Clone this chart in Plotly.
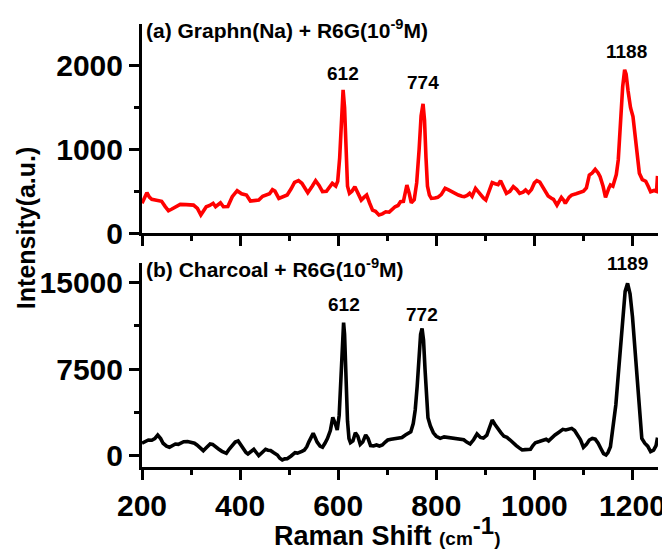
import plotly.graph_objects as go

# ---------------- data ----------------
shift_a = [200, 205, 210, 215, 220, 227, 233, 240, 247, 254, 260, 264, 271, 278, 290, 300, 305, 313, 320, 326,
           331, 338, 345, 350, 355, 360, 366, 375, 384, 390, 394, 403, 413, 421, 430, 438, 446, 454, 460, 466,
           471, 479, 488, 496, 504, 511, 519, 526, 532, 538, 547, 554, 561, 568, 576, 583, 588, 595, 599, 603,
           607, 610, 613, 616, 619, 623, 628, 634, 641, 647, 653, 658, 664, 670, 676, 683, 690, 697, 704, 710,
           716, 722, 727, 733, 740, 745, 749, 755, 760, 765, 769, 773, 776, 779, 782, 786, 790, 797, 803, 810,
           818, 824, 831, 838, 845, 852, 857, 863, 868, 873, 880, 885, 890, 896, 901, 908, 914, 920, 926, 931,
           937, 943, 950, 957, 964, 970, 977, 982, 988, 994, 1000, 1005, 1011, 1020, 1028, 1034, 1039, 1046, 1053, 1055,
           1060, 1063, 1071, 1076, 1085, 1094, 1100, 1106, 1112, 1118, 1124, 1130, 1134, 1140, 1145, 1152, 1155, 1160, 1167, 1171,
           1175, 1180, 1184, 1187, 1191, 1196, 1201, 1206, 1210, 1214, 1220, 1227, 1232, 1237, 1244, 1249, 1251]
intensity_a = [356, 420, 483, 430, 404, 395, 383, 380, 320, 267, 285, 296, 320, 343, 340, 338, 335, 296, 216, 270,
               315, 330, 356, 315, 340, 363, 315, 318, 435, 490, 507, 470, 455, 383, 390, 395, 440, 463, 470, 520,
               503, 415, 440, 455, 530, 607, 627, 595, 540, 483, 560, 627, 570, 495, 500, 560, 595, 563, 620, 900,
               1450, 1712, 1500, 900, 560, 475, 500, 555, 480, 395, 430, 455, 360, 275, 260, 216, 230, 255, 250, 290,
               315, 330, 375, 380, 575, 470, 363, 400, 600, 1000, 1400, 1545, 1350, 900, 560, 455, 415, 420, 427, 460,
               535, 520, 495, 470, 455, 440, 435, 450, 475, 440, 535, 500, 455, 420, 395, 500, 603, 590, 580, 627,
               560, 475, 500, 555, 520, 475, 490, 515, 480, 520, 600, 627, 610, 520, 443, 420, 403, 335, 400, 427,
               390, 355, 430, 455, 470, 495, 500, 540, 695, 720, 763, 720, 675, 560, 427, 540, 575, 560, 700, 875,
               1273, 1750, 1952, 1900, 1700, 1500, 1393, 1114, 850, 715, 640, 620, 560, 495, 510, 500, 683]

shift_b = [200, 203, 208, 213, 220, 226, 232, 238, 243, 250, 256, 262, 268, 274, 280, 285, 293, 301, 307, 312,
           318, 325, 332, 339, 344, 349, 356, 363, 372, 378, 383, 390, 396, 402, 407, 412, 416, 422, 428, 433,
           438, 445, 452, 457, 462, 468, 476, 481, 486, 491, 496, 504, 512, 517, 521, 526, 531, 536, 540, 545,
           549, 553, 557, 563, 568, 573, 578, 584, 589, 594, 598, 602, 606, 609, 611, 613, 616, 619, 622, 625,
           630, 635, 640, 645, 650, 656, 661, 666, 672, 678, 684, 690, 696, 701, 708, 715, 722, 730, 737, 743,
           748, 753, 757, 761, 765, 768, 771, 774, 777, 780, 783, 788, 794, 800, 808, 816, 825, 832, 840, 849,
           856, 862, 869, 876, 883, 890, 896, 903, 909, 914, 920, 926, 932, 938, 944, 950, 957, 963, 969, 975,
           981, 987, 992, 997, 1002, 1010, 1018, 1024, 1029, 1035, 1042, 1050, 1058, 1064, 1070, 1076, 1082, 1088, 1094, 1100,
           1106, 1112, 1118, 1124, 1130, 1136, 1141, 1146, 1150, 1155, 1158, 1162, 1166, 1171, 1175, 1180, 1185, 1190, 1195, 1200,
           1205, 1210, 1214, 1219, 1225, 1231, 1237, 1243, 1248, 1251]
intensity_b = [1100, 1147, 1300, 1379, 1360, 1500, 1810, 1500, 1100, 850, 750, 900, 1034, 1000, 1150, 1233, 1240, 1200, 1100, 948,
               700, 457, 750, 1034, 1000, 800, 600, 400, 233, 600, 900, 1200, 1293, 900, 600, 300, 172, 400, 577, 300,
               26, 300, 577, 500, 480, 300, 86, -200, -345, -250, -230, 0, 284, 250, 300, 400, 517, 800, 1200, 1700,
               1954, 1600, 1200, 850, 750, 1100, 1500, 2200, 3336, 2800, 2241, 3500, 7000, 10500, 11500, 10500, 6500, 3000, 1500, 1147,
               1300, 2009, 1700, 1000, 1200, 1810, 1500, 900, 862, 950, 862, 950, 1200, 1379, 1450, 1500, 1522, 1600, 1810, 1950,
               2095, 2800, 3966, 6000, 8600, 10500, 11000, 10000, 7500, 4500, 3300, 2586, 2000, 1700, 1522, 1650, 1600, 1610, 1550, 1437,
               1400, 1200, 1034, 1400, 1896, 1600, 1550, 1800, 2500, 3103, 2700, 2299, 2000, 1700, 1610, 1400, 1092, 900, 700, 517,
               550, 600, 580, 900, 1147, 1250, 1379, 1450, 1300, 1550, 1810, 2050, 2299, 2250, 2350, 2385, 2200, 1850, 1400, 750,
               1000, 1379, 1522, 1450, 1100, 600, 200, 86, 300, 800, 1810, 3103, 4400, 7000, 9000, 12000, 14200, 14890, 14000, 12000,
               9000, 6000, 3534, 1522, 1100, 850, 370, 500, 900, 1580]

peaks_a_pos = [610, 773, 1187]
peaks_a_int = [1712, 1545, 1952]
peaks_a_label = ["612", "774", "1188"]
peaks_b_pos = [611, 771, 1190]
peaks_b_int = [11500, 11000, 14890]
peaks_b_label = ["612", "772", "1189"]

x_major = [200, 400, 600, 800, 1000, 1200]
x_major_text = ["200", "400", "600", "800", "1000", "1200"]
x_minor = [300, 500, 700, 900, 1100]
ya_major = [0, 1000, 2000]
ya_major_text = ["0", "1000", "2000"]
ya_minor = [500, 1500]
yb_major = [0, 7500, 15000]
yb_major_text = ["0", "7500", "15000"]
yb_minor = [3750, 11250]

FONT = "Liberation Sans, Arial, Helvetica, sans-serif"

fig = go.Figure()
fig.add_trace(go.Scatter(x=shift_a, y=intensity_a, mode="lines", xaxis="x2", yaxis="y2",
                         line=dict(color="#ff0000", width=3.6), showlegend=False))
fig.add_trace(go.Scatter(x=shift_b, y=intensity_b, mode="lines", xaxis="x", yaxis="y",
                         line=dict(color="#000000", width=3.6), showlegend=False))

common_ax = dict(showline=True, linecolor="black", linewidth=3, ticks="outside", ticklen=10, tickwidth=2.5,
                 tickcolor="black", showgrid=False, zeroline=False, mirror=False, automargin=False,
                 tickfont=dict(family=FONT, size=30, color="black", weight="bold"))
minor_style = dict(tickmode="array", ticklen=5, tickwidth=2.5, tickcolor="black", ticks="outside")

# the page body has an 8px default margin, so the figure is 8px smaller on each axis
fig.update_layout(
    width=662, height=543,
    margin=dict(l=134, r=12, t=16, b=84),
    paper_bgcolor="white", plot_bgcolor="white",
    xaxis=dict(**common_ax, range=[200, 1252], domain=[0, 1], anchor="y",
               tickmode="array", tickvals=x_major, ticktext=x_major_text,
               minor=dict(**minor_style, tickvals=x_minor)),
    yaxis=dict(**common_ax, range=[-950, 16650], domain=[0, 0.4605], anchor="x",
               tickmode="array", tickvals=yb_major, ticktext=yb_major_text,
               minor=dict(**minor_style, tickvals=yb_minor)),
    xaxis2=dict(**common_ax, range=[200, 1252], domain=[0, 1], anchor="y2",
                tickmode="array", tickvals=x_major, showticklabels=False,
                minor=dict(**minor_style, tickvals=x_minor)),
    yaxis2=dict(**common_ax, range=[0, 2500], domain=[0.528, 1], anchor="x2",
                tickmode="array", tickvals=ya_major, ticktext=ya_major_text,
                minor=dict(**minor_style, tickvals=ya_minor)),
)

ann = []
ann.append(dict(text="Intensity(a.u.)", xref="paper", yref="paper", x=-0.226, y=0.54, textangle=-90,
                showarrow=False, font=dict(family=FONT, size=25, color="black", weight="bold"),
                xanchor="center", yanchor="middle"))
ann.append(dict(text="Raman Shift <span style='font-size:19px'>(cm</span><sup><span style='font-size:24px'>-1</span></sup><span style='font-size:19px'>)</span>",
                xref="paper", yref="paper", x=0.475, y=-0.146, xanchor="center", yanchor="middle",
                showarrow=False, font=dict(family=FONT, size=27, color="black", weight="bold")))
ann.append(dict(text="(a) Graphn(Na) + R6G(10<sup>-9</sup>M)", xref="x2 domain", yref="y2 domain", x=0.0, y=1.0,
                xanchor="left", yanchor="top", showarrow=False, yshift=10, xshift=2,
                font=dict(family=FONT, size=21, color="black", weight="bold")))
ann.append(dict(text="(b) Charcoal + R6G(10<sup>-9</sup>M)", xref="x domain", yref="y domain", x=0.0, y=1.0,
                xanchor="left", yanchor="top", showarrow=False, yshift=10, xshift=2,
                font=dict(family=FONT, size=21, color="black", weight="bold")))
for xp, yp, lab, sh in zip(peaks_a_pos, peaks_a_int, peaks_a_label, [4, 9, 6]):
    ann.append(dict(text=lab, x=xp, y=yp, xref="x2", yref="y2", showarrow=False, yanchor="bottom",
                    yshift=sh, font=dict(family=FONT, size=19, color="black", weight="bold")))
for xp, yp, lab, sh in zip(peaks_b_pos, peaks_b_int, peaks_b_label, [6, 1, 7]):
    ann.append(dict(text=lab, x=xp, y=yp, xref="x", yref="y", showarrow=False, yanchor="bottom",
                    yshift=sh, font=dict(family=FONT, size=19, color="black", weight="bold")))
fig.update_layout(annotations=ann)

fig.write_html("out.html")
